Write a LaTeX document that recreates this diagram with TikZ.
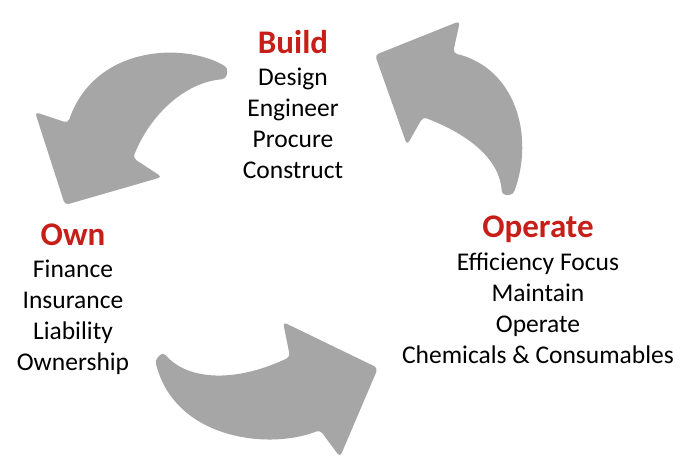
\documentclass[tikz,border=0pt]{standalone}
\usepackage{fontspec}
\setmainfont{Carlito}
\definecolor{arrowgray}{HTML}{A6A6A6}
\definecolor{headred}{HTML}{C61F1A}
\begin{document}
\begin{tikzpicture}[x=1pt,y=-1pt,
  cyclearrow/.style={fill=arrowgray,draw=none,rounded corners=4pt},
  phasetitle/.style={anchor=base,inner sep=0pt,text=headred,
    font=\fontsize{33}{40}\selectfont\bfseries},
  % the base anchor of a multi-line node sits on its last line
  phaselist/.style={anchor=base,inner sep=0pt,align=center,
    font=\fontsize{25.5}{31}\selectfont}]
\useasboundingbox (0,0) rectangle (688,467);

% Build -> Own (top left, curving down to the left)
\fill[cyclearrow] (228,68) .. controls (185,42) and (95,45) .. (68,123)
  -- (35,112) -- (65,205) -- (162,177) -- (133,158)
  .. controls (150,115) and (185,82) .. (226,79) -- cycle;

% Operate -> Build (right, curving up to the left)
\fill[cyclearrow] (502,195) .. controls (500,160) and (470,135) .. (423,117)
  -- (407,145) -- (375,55) -- (460,21) -- (453,53)
  .. controls (515,68) and (535,135) .. (513,195) -- cycle;

% Own -> Operate (bottom, curving to the right)
\fill[cyclearrow] (163,352) .. controls (185,378) and (230,385) .. (290,357)
  -- (283,322) -- (378,368) -- (340,457) -- (320,430)
  .. controls (270,450) and (175,440) .. (155,360) -- cycle;

% Build
\node[phasetitle] (buildT) at (293,53) {Build};
\node[phaselist] (buildL) at (293,178) {Design\\Engineer\\Procure\\Construct};

% Operate
\node[phasetitle] (operT) at (538,237) {Operate};
\node[phaselist] (operL) at (538,363) {Efficiency Focus\\Maintain\\Operate\\Chemicals \& Consumables};

% Own
\node[phasetitle] (ownT) at (73,245) {Own};
\node[phaselist] (ownL) at (73,370) {Finance\\Insurance\\Liability\\Ownership};
\end{tikzpicture}
\end{document}
